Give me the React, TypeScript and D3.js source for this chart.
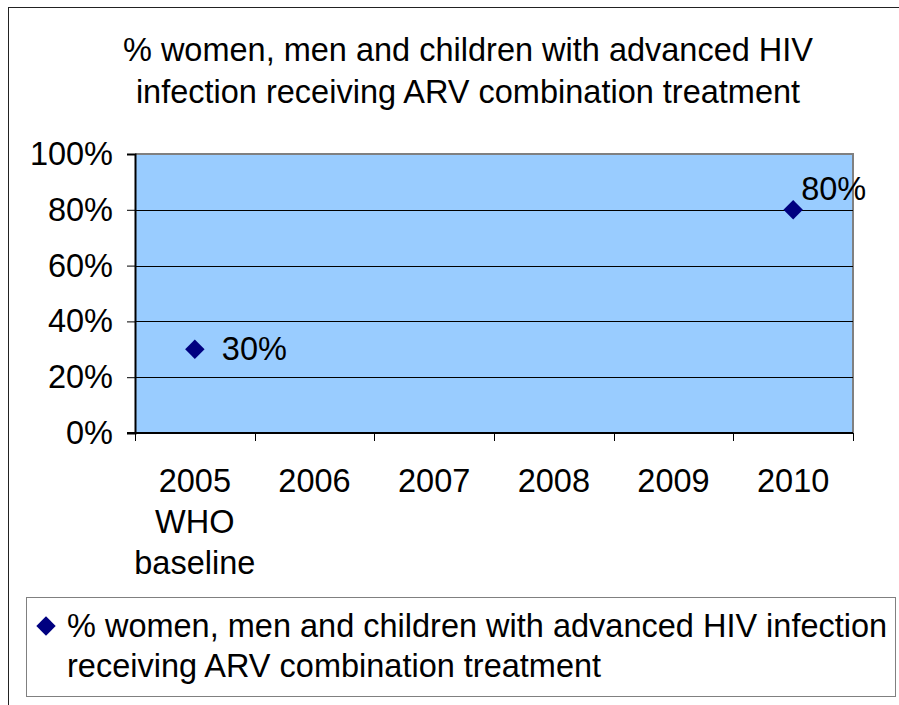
import React, { useEffect, useRef } from 'react';
import * as d3 from 'd3';

const categories = ['2005', '2006', '2007', '2008', '2009', '2010'];
const categoryLabels = [['2005', 'WHO', 'baseline'], ['2006'], ['2007'], ['2008'], ['2009'], ['2010']];
const values: (number | null)[] = [0.3, null, null, null, null, 0.8];
const yTicks = [0, 0.2, 0.4, 0.6, 0.8, 1];
const titleLines = ['% women, men and children with advanced HIV', 'infection receiving ARV combination treatment'];
const legendLines = ['% women, men and children with advanced HIV infection', 'receiving ARV combination treatment'];

const FONT = '"Liberation Sans", Arial, sans-serif';
const FS = 32.5;

const App: React.FC = () => {
  const svgRef = useRef<SVGSVGElement | null>(null);

  useEffect(() => {
    if (!svgRef.current) return;
    const svg = d3.select(svgRef.current);
    svg.selectAll('*').remove();

    const plot = { left: 135, top: 154, right: 853, bottom: 433 };

    const x = d3.scaleBand<string>().domain(categories).range([plot.left, plot.right]).padding(0);
    const y = d3.scaleLinear().domain([0, 1]).range([plot.bottom, plot.top]);

    // Outer chart border (clipped at right/bottom)
    svg.append('rect')
      .attr('x', 8.5).attr('y', 7.5)
      .attr('width', 1000).attr('height', 1000)
      .attr('fill', 'white')
      .attr('stroke', '#222')
      .attr('stroke-width', 1);

    // Title
    const title = svg.append('text')
      .attr('font-family', FONT)
      .attr('font-size', FS)
      .attr('text-anchor', 'middle')
      .attr('fill', '#000');
    titleLines.forEach((t, i) => {
      title.append('tspan').attr('x', 468).attr('y', 61 + i * 42).text(t);
    });

    // Plot background
    svg.append('rect')
      .attr('x', plot.left).attr('y', plot.top)
      .attr('width', plot.right - plot.left).attr('height', plot.bottom - plot.top)
      .attr('fill', '#99CCFF');

    // Top and right border (gray)
    svg.append('path')
      .attr('d', `M${plot.left},${plot.top}H${plot.right}V${plot.bottom}`)
      .attr('fill', 'none')
      .attr('stroke', '#808080')
      .attr('stroke-width', 2);

    // Grid lines
    svg.append('g')
      .selectAll('line')
      .data(yTicks.filter((d) => d > 0 && d < 1))
      .join('line')
      .attr('x1', plot.left).attr('x2', plot.right)
      .attr('y1', (d) => Math.round(y(d)) + 0.5).attr('y2', (d) => Math.round(y(d)) + 0.5)
      .attr('stroke', '#000')
      .attr('stroke-width', 1);

    // Y axis
    const yAxis = svg.append('g')
      .attr('transform', `translate(${plot.left},0)`)
      .call(d3.axisLeft(y).tickValues(yTicks).tickSize(8).tickPadding(14).tickFormat((d) => `${Math.round(+d * 100)}%`));
    yAxis.select('.domain').attr('stroke', '#000').attr('stroke-width', 2);
    yAxis.selectAll('.tick line').attr('stroke', '#000');
    yAxis.selectAll('text')
      .attr('font-family', FONT)
      .attr('font-size', FS)
      .attr('fill', '#000');

    // X axis line
    svg.append('line')
      .attr('x1', plot.left - 8).attr('x2', plot.right)
      .attr('y1', plot.bottom).attr('y2', plot.bottom)
      .attr('stroke', '#000')
      .attr('stroke-width', 2);

    // X ticks at category boundaries
    const boundaries = categories.map((c) => x(c) as number).concat([plot.right]);
    svg.append('g')
      .selectAll('line')
      .data(boundaries)
      .join('line')
      .attr('x1', (d) => Math.round(d) + 0.5).attr('x2', (d) => Math.round(d) + 0.5)
      .attr('y1', plot.bottom).attr('y2', plot.bottom + 8)
      .attr('stroke', '#000');

    // X labels
    const xl = svg.append('g')
      .attr('font-family', FONT)
      .attr('font-size', FS)
      .attr('text-anchor', 'middle')
      .attr('fill', '#000');
    categories.forEach((c, i) => {
      const t = xl.append('text');
      categoryLabels[i].forEach((line, j) => {
        t.append('tspan')
          .attr('x', (x(c) as number) + x.bandwidth() / 2)
          .attr('y', 492 + j * 41)
          .text(line);
      });
    });

    // Points
    const diamond = d3.symbol().type(d3.symbolDiamond2).size(240);
    const pts = categories
      .map((c, i) => ({ c, v: values[i] }))
      .filter((d) => d.v !== null) as { c: string; v: number }[];

    svg.append('g')
      .selectAll('path')
      .data(pts)
      .join('path')
      .attr('d', diamond)
      .attr('transform', (d) => `translate(${(x(d.c) as number) + x.bandwidth() / 2},${y(d.v)})`)
      .attr('fill', '#000080');

    // Data labels
    const labelOffsets = [{ dx: 27, dy: 11 }, { dx: 8, dy: -10 }];
    svg.append('g')
      .selectAll('text')
      .data(pts)
      .join('text')
      .attr('x', (d, i) => (x(d.c) as number) + x.bandwidth() / 2 + labelOffsets[i].dx)
      .attr('y', (d, i) => y(d.v) + labelOffsets[i].dy)
      .attr('font-family', FONT)
      .attr('font-size', FS)
      .attr('fill', '#000')
      .text((d) => `${Math.round(d.v * 100)}%`);

    // Legend
    const legend = svg.append('g');
    legend.append('rect')
      .attr('x', 26.5).attr('y', 597.5)
      .attr('width', 869).attr('height', 99)
      .attr('fill', 'white')
      .attr('stroke', '#808080')
      .attr('stroke-width', 1);
    legend.append('path')
      .attr('d', diamond)
      .attr('transform', 'translate(46,626)')
      .attr('fill', '#000080');
    const lt = legend.append('text')
      .attr('font-family', FONT)
      .attr('font-size', FS)
      .attr('fill', '#000');
    legendLines.forEach((t, i) => {
      lt.append('tspan').attr('x', 67).attr('y', 637 + i * 40).text(t);
    });
  }, []);

  return (
    <div style={{ position: 'fixed', left: 0, top: 0, width: 899, height: 705, background: 'white' }}>
      <svg ref={svgRef} width={899} height={705} style={{ display: 'block' }} />
    </div>
  );
};

export default App;
